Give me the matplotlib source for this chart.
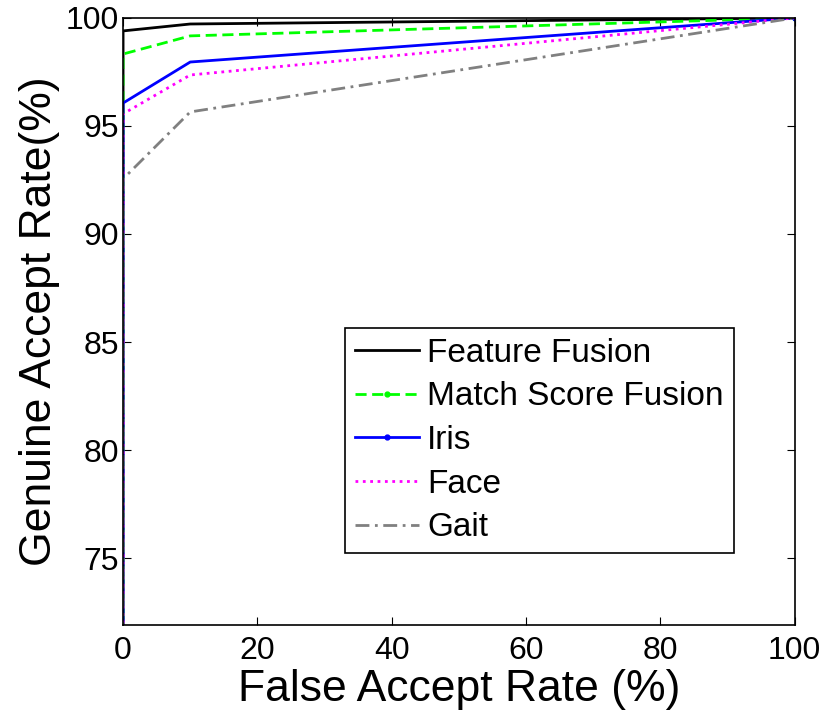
import numpy as np
import matplotlib.pyplot as plt

plt.rcParams['font.family'] = ['Liberation Sans', 'DejaVu Sans']

far = [0, 0, 10, 100]
feature_fusion = [0, 99.4, 99.72, 100]
match_score_fusion = [0, 98.33, 99.17, 100]
iris = [0, 96.06, 97.96, 100]
face = [0, 95.56, 97.36, 100]
gait = [0, 92.55, 95.65, 100]

fig = plt.figure(figsize=(8.26, 7.18), dpi=100)
ax = fig.add_axes([0.149, 0.1295, 0.813, 0.8455])

ax.plot(far, feature_fusion, color='black', lw=2, ls='-', label='Feature Fusion')
ax.plot(far, match_score_fusion, color='#00ff00', lw=2, ls=(0, (4, 2)), marker='.', ms=7,
        markevery=[3], label='Match Score Fusion')
ax.plot(far, iris, color='blue', lw=2, ls='-', marker='.', ms=7,
        markevery=[3], label='Iris')
ax.plot(far, face, color='magenta', lw=2, ls=':', label='Face')
ax.plot(far, gait, color='#808080', lw=2, ls=(0, (5, 2, 1, 2)), label='Gait')

ax.set_xlim(0, 100)
ax.set_ylim(71.9, 100)
ax.set_xticks([0, 20, 40, 60, 80, 100])
ax.set_yticks([75, 80, 85, 90, 95, 100])
ax.tick_params(direction='in', top=True, right=True, labelsize=23, length=6)
ax.tick_params(axis='x', pad=8)
ax.tick_params(axis='y', pad=3)
for s in ax.spines.values():
    s.set_linewidth(1.2)

ax.set_xlabel('False Accept Rate (%)', fontsize=32, labelpad=2)
ax.set_ylabel('Genuine Accept Rate(%)', fontsize=32, labelpad=4)

leg = ax.legend(loc='lower left', bbox_to_anchor=(0.331, 0.118), fontsize=24,
                fancybox=False, edgecolor='black', framealpha=1,
                handlelength=1.9, handletextpad=0.25, labelspacing=0.38,
                borderpad=0.3, borderaxespad=0)
leg.get_frame().set_linewidth(1.2)

fig.savefig('out.png', dpi=100)
